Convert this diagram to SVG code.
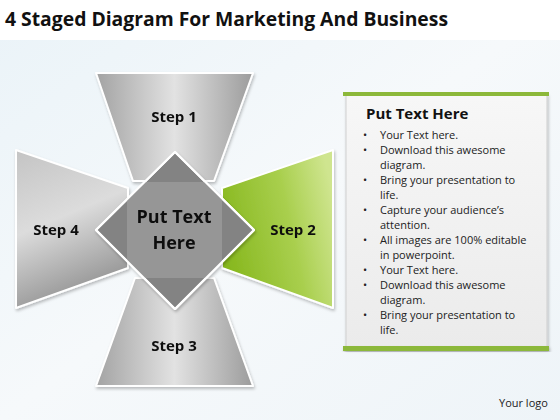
<svg xmlns="http://www.w3.org/2000/svg" width="560" height="420" viewBox="0 0 560 420">
<defs>
<linearGradient id="bg" x1="0" y1="0" x2="1" y2="1">
<stop offset="0" stop-color="#eaf3f8"/><stop offset="0.5" stop-color="#f6f9fb"/><stop offset="1" stop-color="#eef4f8"/>
</linearGradient>
<linearGradient id="grayH" x1="0" y1="0" x2="1" y2="0">
<stop offset="0" stop-color="#a3a3a3"/><stop offset="0.5" stop-color="#e2e2e2"/><stop offset="1" stop-color="#9c9c9c"/>
</linearGradient>
<linearGradient id="grayV" x1="0" y1="0" x2="0.3" y2="1">
<stop offset="0" stop-color="#c4c4c4"/><stop offset="0.5" stop-color="#dcdcdc"/><stop offset="1" stop-color="#959595"/>
</linearGradient>
<linearGradient id="green" x1="0" y1="0.6" x2="1" y2="0.3">
<stop offset="0" stop-color="#86b71d"/><stop offset="0.6" stop-color="#a9cf4e"/><stop offset="1" stop-color="#cfe58f"/>
</linearGradient>
<linearGradient id="box" x1="0" y1="0" x2="0" y2="1">
<stop offset="0" stop-color="#f7f7f7"/><stop offset="1" stop-color="#ebebeb"/>
</linearGradient>
<clipPath id="dclip"><polygon points="175,152 254,230 175,309 96,230"/></clipPath>
<filter id="sh" x="-10%" y="-10%" width="120%" height="130%">
<feDropShadow dx="1" dy="2" stdDeviation="1.5" flood-color="#000" flood-opacity="0.25"/>
</filter>
</defs>
<style>
.shape{stroke:#ffffff;stroke-width:2;stroke-linejoin:round}
.lbl{font-family:"Open Sans","Liberation Sans",sans-serif;font-weight:bold;font-size:15px;fill:#111;text-anchor:middle}
.big{font-family:"Open Sans","Liberation Sans",sans-serif;font-weight:bold;font-size:18px;fill:#111;text-anchor:middle}
.body{font-family:"Open Sans","Liberation Sans",sans-serif;font-size:11px;fill:#222}
</style>
<rect x="0" y="0" width="560" height="420" fill="url(#bg)"/>
<rect x="0" y="0" width="560" height="40" fill="#ffffff"/>
<text x="5" y="26" font-family="'Open Sans','Liberation Sans',sans-serif" font-weight="bold" font-size="20" fill="#111" textLength="443" lengthAdjust="spacingAndGlyphs">4 Staged Diagram For Marketing And Business</text>

<g id="step1" filter="url(#sh)">
<polygon class="shape" points="96,73 253,73 214,181 133,181" fill="url(#grayH)"/>
<text class="lbl" x="174" y="122">Step 1</text>
</g>
<g id="step3" filter="url(#sh)">
<polygon class="shape" points="135,278 214,278 253,386 96,386" fill="url(#grayH)"/>
<text class="lbl" x="174" y="351">Step 3</text>
</g>
<g id="step4" filter="url(#sh)">
<polygon class="shape" points="16,150 128,188 128,268 16,308" fill="url(#grayV)"/>
<text class="lbl" x="56" y="235">Step 4</text>
</g>
<g id="step2" filter="url(#sh)">
<polygon class="shape" points="222,188 333,150 333,308 222,268" fill="url(#green)"/>
<text class="lbl" x="293" y="235">Step 2</text>
</g>
<g id="center" filter="url(#sh)">
<polygon class="shape" points="175,152 254,230 175,309 96,230" fill="#838383"/>
<rect x="127" y="182" width="95" height="96" fill="#969696" clip-path="url(#dclip)"/>
<polygon points="175,152 254,230 175,309 96,230" fill="none" stroke="#ffffff" stroke-width="2" stroke-linejoin="round"/>
<text class="big" x="174" y="223">Put Text</text>
<text class="big" x="174" y="249">Here</text>
</g>

<g id="textbox">
<rect x="346" y="94" width="201" height="254" fill="url(#box)" stroke="#cfcfcf" stroke-width="1" filter="url(#sh)"/>
<rect x="343" y="92" width="206" height="4" fill="#8cb83a"/>
<rect x="343" y="346" width="206" height="5" fill="#8cb83a" filter="url(#sh)"/>
<text x="366" y="119" font-family="'Open Sans','Liberation Sans',sans-serif" font-weight="bold" font-size="15" fill="#111">Put Text Here</text>
<g class="body">
<text x="363" y="139">•</text><text x="380" y="139">Your Text here.</text>
<text x="363" y="154">•</text><text x="380" y="154">Download this awesome</text>
<text x="380" y="169">diagram.</text>
<text x="363" y="184">•</text><text x="380" y="184">Bring your presentation to</text>
<text x="380" y="199">life.</text>
<text x="363" y="214">•</text><text x="380" y="214">Capture your audience’s</text>
<text x="380" y="229">attention.</text>
<text x="363" y="244">•</text><text x="380" y="244">All images are 100% editable</text>
<text x="380" y="259">in powerpoint.</text>
<text x="363" y="274">•</text><text x="380" y="274">Your Text here.</text>
<text x="363" y="289">•</text><text x="380" y="289">Download this awesome</text>
<text x="380" y="304">diagram.</text>
<text x="363" y="319">•</text><text x="380" y="319">Bring your presentation to</text>
<text x="380" y="334">life.</text>
</g>
</g>
<text x="499" y="407" font-family="'Open Sans','Liberation Sans',sans-serif" font-size="11" fill="#222">Your logo</text>
</svg>
